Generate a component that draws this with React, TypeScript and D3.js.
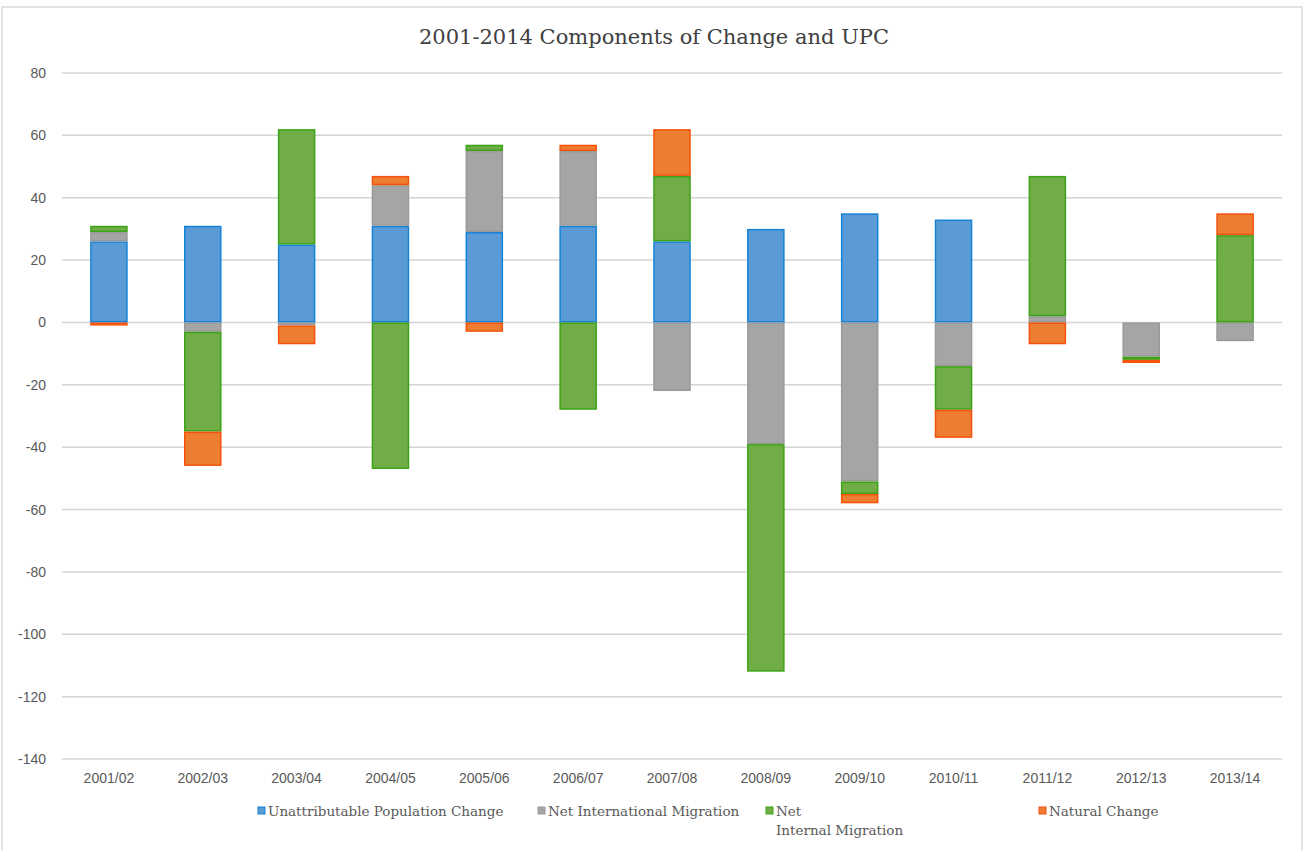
import React from "react";
import * as d3 from "d3";

const categories = ["2001/02","2002/03","2003/04","2004/05","2005/06","2006/07","2007/08","2008/09","2009/10","2010/11","2011/12","2012/13","2013/14"];
const upc = [26, 31, 25, 31, 29, 31, 26, 30, 35, 33, 0, 0, 0];
const netIntl = [3, -3, -1, 13, 26, 24, -22, -39, -51, -14, 2, -11, -6];
const netInternal = [2, -32, 37, -47, 2, -28, 21, -73, -4, -14, 45, -1, 28];
const natural = [-1, -11, -6, 3, -3, 2, 15, 0, -3, -9, -7, -1, 7];
const yTicks = [80, 60, 40, 20, 0, -20, -40, -60, -80, -100, -120, -140];

const seriesDefs = [
  { key: "upc", name: "Unattributable Population Change", values: upc, fill: "#5B9BD5", stroke: "#1582D8" },
  { key: "intl", name: "Net International Migration", values: netIntl, fill: "#A5A5A5", stroke: "#999999" },
  { key: "internal", name: "Net\nInternal Migration", values: netInternal, fill: "#70AD47", stroke: "#3BA316" },
  { key: "natural", name: "Natural Change", values: natural, fill: "#ED7D31", stroke: "#F5520C" },
];

const SERIF = "'DejaVu Serif', serif";
const SANS = "'Liberation Sans', Arial, sans-serif";

export default function App() {
  const W = 1307, H = 850;
  const left = 62, right = 1282, top = 73, bottom = 759;
  const x = d3.scaleBand<string>().domain(categories).range([left, right]).paddingInner(0.6).paddingOuter(0.3);
  const y = d3.scaleLinear().domain([-140, 80]).range([bottom, top]);

  const rows = categories.map((c, i) => {
    const r: any = { cat: c };
    seriesDefs.forEach((s) => (r[s.key] = s.values[i]));
    return r;
  });
  const stack = d3.stack<any>().keys(seriesDefs.map((s) => s.key)).offset(d3.stackOffsetDiverging);
  const layers = stack(rows);

  const legendX = [258, 538, 766, 1039];

  return (
    <svg width={W} height={H} style={{ position: "absolute", left: 0, top: 0, background: "#fff" }}>
      <rect x={2} y={7} width={1300} height={850} fill="#fff" stroke="#d9d9d9" strokeWidth={1.5} />
      <text x={654} y={44} textAnchor="middle" fontFamily={SERIF} fontSize={21} fill="#404040">
        2001-2014 Components of Change and UPC
      </text>
      {yTicks.map((t) => (
        <g key={t}>
          <line x1={left} x2={right} y1={y(t)} y2={y(t)} stroke="#d4d4d4" strokeWidth={1.5} />
          <text x={46} y={y(t) + 5} textAnchor="end" fontFamily={SANS} fontSize={14} fill="#595959">
            {t}
          </text>
        </g>
      ))}
      {layers.map((layer, li) => {
        const s = seriesDefs[li];
        return (
          <g key={s.key}>
            {layer.map((d, i) => {
              const v = s.values[i];
              if (v === 0) return null;
              const y0 = y(Math.max(d[0], d[1]));
              const y1 = y(Math.min(d[0], d[1]));
              return (
                <rect
                  key={i}
                  x={(x(categories[i]) as number) + 0.75}
                  y={y0 + 0.75}
                  width={x.bandwidth() - 1.5}
                  height={Math.max(0, y1 - y0 - 1.5)}
                  fill={s.fill}
                  stroke={s.stroke}
                  strokeWidth={1.5}
                />
              );
            })}
          </g>
        );
      })}
      {categories.map((c) => (
        <text key={c} x={(x(c) as number) + x.bandwidth() / 2} y={783} textAnchor="middle" fontFamily={SANS} fontSize={14} fill="#595959">
          {c}
        </text>
      ))}
      {seriesDefs.map((s, i) => (
        <g key={s.key}>
          <rect x={legendX[i]} y={807} width={7} height={7} fill={s.fill} stroke={s.stroke} strokeWidth={1} />
          {s.name.split("\n").map((line, j) => (
            <text key={j} x={legendX[i] + 10} y={816 + j * 19} fontFamily={SERIF} fontSize={13.5} fill="#595959">
              {line}
            </text>
          ))}
        </g>
      ))}
    </svg>
  );
}
